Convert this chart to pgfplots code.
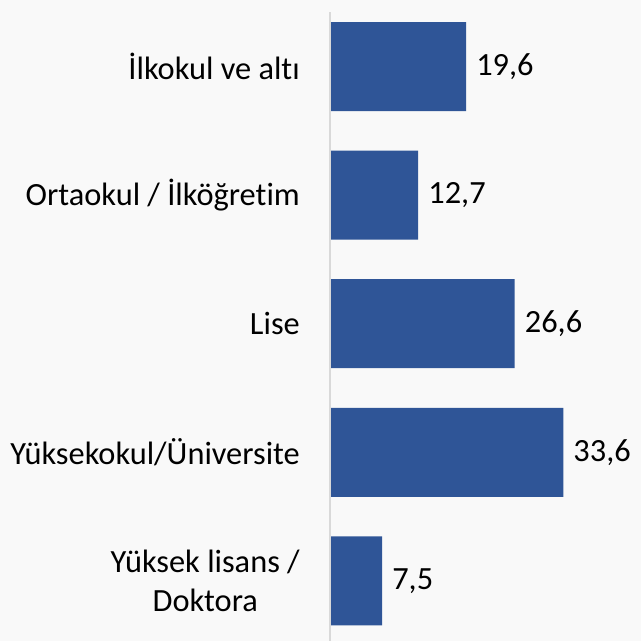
\documentclass[border=0pt]{standalone}
\usepackage{pgfplots}
\pgfplotsset{compat=1.18}
\usepackage{fontspec}
\setmainfont[Ligatures=NoCommon]{Carlito}
\definecolor{barblue}{HTML}{2F5597}
\definecolor{axgray}{HTML}{D9D9D9}
\definecolor{bg}{HTML}{F9F9F9}
\begin{document}
\begin{tikzpicture}[x=1bp,y=1bp]
\fill[bg] (0,0) rectangle (641,641);
\useasboundingbox (0,0) rectangle (641,641);
\begin{axis}[
  at={(330bp,0bp)}, anchor=south west,
  scale only axis, width=311bp, height=629bp,
  xbar, bar width=0.692,
  xmin=0, xmax=44.8,
  ymin=-0.424, ymax=4.467, y dir=reverse,
  axis line style={draw=none},
  hide x axis,
  ytick={0,1,2,3,4},
  yticklabels={İlkokul ve altı, Ortaokul / İlköğretim, Lise, Yüksekokul/Üniversite, {Yüksek lisans /\\Doktora}},
  yticklabel style={align=center, inner sep=0pt, font=\fontsize{32.5}{39}\selectfont},
  yticklabel shift=30bp,
  major tick length=0pt,
  nodes near coords,
  every node near coord/.append style={anchor=west, inner sep=0pt, xshift=10bp, font=\fontsize{32.5}{39}\selectfont, text=black},
  /pgf/number format/.cd, use comma, fixed, fixed zerofill, precision=1, assume math mode=true,
]
\addplot[fill=barblue, draw=none] coordinates {(19.6,0) (12.7,1) (26.6,2) (33.6,3) (7.5,4)};
\end{axis}
\draw[axgray, line width=1.5bp] (330,0) -- (330,629);
\end{tikzpicture}
\end{document}
